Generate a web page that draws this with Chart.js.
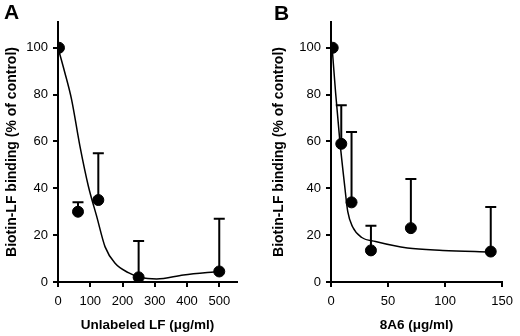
<!DOCTYPE html>
<html>
<head>
<meta charset="utf-8">
<script src="https://cdn.jsdelivr.net/npm/chart.js@4"></script>
<style>
  body { margin: 0; background: #fff; }
  #wrap { position: relative; width: 520px; height: 336px; }
  .panel { position: absolute; top: 0; width: 260px; height: 336px; }
  .tag { position: absolute; font: bold 21px "Liberation Sans", Arial, sans-serif; color: #000; }
</style>
</head>
<body>
<div id="wrap">
  <div class="panel" style="left:0"><canvas id="chartA" width="260" height="336"></canvas></div>
  <div class="panel" style="left:260px"><canvas id="chartB" width="260" height="336"></canvas></div>
  <div class="tag" style="left:4px;top:0px">A</div>
  <div class="tag" style="left:274px;top:1px">B</div>
</div>
<script>
// panel A: unlabeled LF
const doseA = [3, 62, 125, 250, 500];
const bindA = [100, 30, 35, 2, 4.5];
const upperA = [100, 34, 55, 17.5, 27];
const curveAx = [0, 20, 42, 68, 94, 120, 146, 177, 218, 255, 306, 389, 500];
const curveAy = [100, 90, 78, 58, 41, 28, 15, 8, 4, 2, 1.3, 3, 4.5];
const xTicksA = [0, 100, 200, 300, 400, 500];

// panel B: 8A6
const doseB = [1.5, 9, 18, 35, 70, 140];
const bindB = [100, 59, 34, 13.5, 23, 13];
const upperB = [100, 75.5, 64, 24, 44, 32];
const curveBx = [1, 4, 7.6, 12, 14.7, 19, 27, 39, 67, 98, 140];
const curveBy = [100, 81, 61, 41, 30, 23.5, 19, 17.3, 14.5, 13.5, 12.8];
const xTicksB = [0, 50, 100, 150];

const yTicks = [0, 20, 40, 60, 80, 100];

const FONT = '"Liberation Sans", Arial, sans-serif';

// upper error bars with a cap
const errorBars = {
  id: 'errorBars',
  afterDatasetsDraw(chart, args, opts) {
    const ctx = chart.ctx;
    const xs = chart.scales.x, ys = chart.scales.y;
    ctx.save();
    ctx.strokeStyle = '#000';
    ctx.lineWidth = 2;
    opts.x.forEach((v, i) => {
      if (opts.upper[i] <= opts.y[i]) return;
      const px = xs.getPixelForValue(v);
      const py = ys.getPixelForValue(opts.y[i]);
      const pu = ys.getPixelForValue(opts.upper[i]);
      ctx.beginPath();
      ctx.moveTo(px, py);
      ctx.lineTo(px, pu);
      ctx.moveTo(px - 5.5, pu);
      ctx.lineTo(px + 5.5, pu);
      ctx.stroke();
    });
    ctx.restore();
  }
};

function makeChart(id, dose, bind, upper, cx, cy, xTicks, xMax, xTitle, padLeft, yWidth, padRight) {
  const pts = dose.map((d, i) => ({x: d, y: bind[i]}));
  const curve = cx.map((d, i) => ({x: d, y: cy[i]}));
  return new Chart(document.getElementById(id), {
    type: 'scatter',
    data: {
      datasets: [
        {
          type: 'line',
          data: curve,
          borderColor: '#000',
          borderWidth: 1.5,
          pointRadius: 0,
          fill: false,
          cubicInterpolationMode: 'monotone'
        },
        {
          data: pts,
          backgroundColor: '#000',
          borderColor: '#000',
          pointRadius: 5.5,
          pointHoverRadius: 5.5
        }
      ]
    },
    options: {
      responsive: false,
      animation: false,
      events: [],
      layout: { padding: { top: 22, right: padRight, left: padLeft, bottom: 0 } },
      plugins: {
        legend: { display: false },
        tooltip: { enabled: false },
        errorBars: { x: dose, y: bind, upper: upper }
      },
      scales: {
        x: {
          type: 'linear',
          min: 0,
          max: xMax,
          afterBuildTicks: s => { s.ticks = xTicks.map(v => ({value: v})); },
          afterFit: s => { s.height = 54; },
          border: { color: '#000', width: 2 },
          grid: { drawOnChartArea: false, color: '#000', lineWidth: 2, tickLength: 5 },
          ticks: { color: '#000', font: { family: FONT, size: 13 }, padding: 7, maxRotation: 0 },
          title: { display: true, text: xTitle, color: '#000', font: { family: FONT, size: 13.5, weight: 'bold' }, padding: { top: 4, bottom: 3 } }
        },
        y: {
          min: 0,
          max: 111,
          afterBuildTicks: s => { s.ticks = yTicks.map(v => ({value: v})); },
          afterFit: s => { s.width = yWidth; },
          border: { color: '#000', width: 2 },
          grid: { drawOnChartArea: false, color: '#000', lineWidth: 2, tickLength: 5 },
          ticks: { color: '#000', font: { family: FONT, size: 13 }, padding: 5 },
          title: { display: true, text: 'Biotin-LF binding (% of control)', color: '#000', font: { family: FONT, size: 14, weight: 'bold' }, padding: { top: 3, bottom: 3 } }
        }
      }
    },
    plugins: [errorBars]
  });
}

makeChart('chartA', doseA, bindA, upperA, curveAx, curveAy, xTicksA, 555, 'Unlabeled LF (\u03bcg/ml)', 1, 57, 23);
makeChart('chartB', doseB, bindB, upperB, curveBx, curveBy, xTicksB, 150, '8A6 (\u03bcg/ml)', 8, 63, 12);
</script>
</body>
</html>
